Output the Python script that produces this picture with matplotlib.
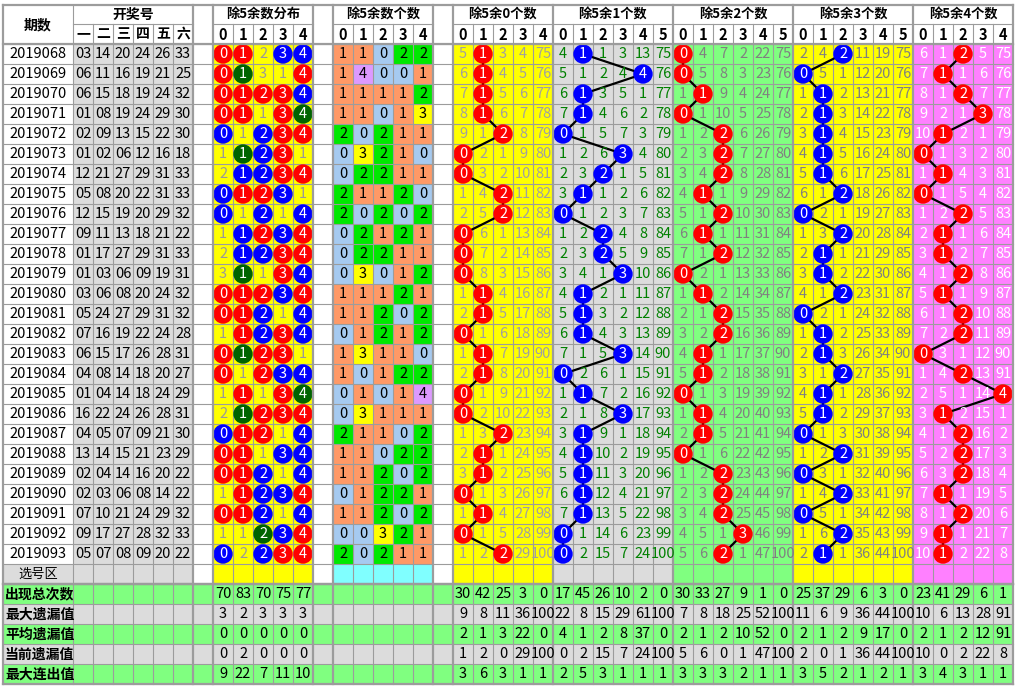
import matplotlib
matplotlib.use('Agg')
import matplotlib.pyplot as plt
from matplotlib.patches import Rectangle, Circle

plt.rcParams['font.family'] = ['Liberation Sans Narrow', 'Noto Sans CJK SC', 'DejaVu Sans']

# ---- data ----
periods = ['2019068', '2019069', '2019070', '2019071', '2019072', '2019073', '2019074',
           '2019075', '2019076', '2019077', '2019078', '2019079', '2019080', '2019081',
           '2019082', '2019083', '2019084', '2019085', '2019086', '2019087', '2019088',
           '2019089', '2019090', '2019091', '2019092', '2019093']

draws = [
    [3, 14, 20, 24, 26, 33], [6, 11, 16, 19, 21, 25], [6, 15, 18, 19, 24, 32],
    [1, 8, 19, 24, 29, 30], [2, 9, 13, 15, 22, 30], [1, 2, 6, 12, 16, 18],
    [12, 21, 27, 29, 31, 33], [5, 8, 20, 22, 31, 33], [12, 15, 19, 20, 29, 32],
    [9, 11, 13, 18, 21, 22], [1, 17, 27, 29, 31, 33], [1, 3, 6, 9, 19, 31],
    [3, 6, 8, 20, 24, 32], [5, 24, 27, 29, 31, 32], [7, 16, 19, 22, 24, 28],
    [6, 15, 17, 26, 28, 31], [4, 8, 14, 18, 20, 27], [1, 4, 14, 18, 24, 29],
    [16, 22, 24, 26, 28, 31], [4, 5, 7, 9, 21, 30], [13, 14, 15, 21, 23, 29],
    [2, 4, 14, 16, 20, 22], [2, 3, 6, 8, 14, 22], [7, 10, 21, 24, 29, 32],
    [9, 17, 27, 28, 32, 33], [5, 7, 8, 9, 20, 22],
]

# how many numbers of each remainder (0..4) per draw
counts = [
    [1, 1, 0, 2, 2], [1, 4, 0, 0, 1], [1, 1, 1, 1, 2], [1, 1, 0, 1, 3], [2, 0, 2, 1, 1],
    [0, 3, 2, 1, 0], [0, 2, 2, 1, 1], [2, 1, 1, 2, 0], [2, 0, 2, 0, 2], [0, 2, 1, 2, 1],
    [0, 2, 2, 1, 1], [0, 3, 0, 1, 2], [1, 1, 1, 2, 1], [1, 1, 2, 0, 2], [0, 1, 2, 1, 2],
    [1, 3, 1, 1, 0], [1, 0, 1, 2, 2], [0, 1, 0, 1, 4], [0, 3, 1, 1, 1], [2, 1, 1, 0, 2],
    [1, 1, 0, 2, 2], [1, 1, 2, 0, 2], [0, 1, 2, 2, 1], [1, 1, 2, 0, 2], [0, 0, 3, 2, 1],
    [2, 0, 2, 1, 1],
]

# omission values shown in the first row (hit cell = 0)
dist_first = [0, 0, 2, 0, 0]
rem_first = [
    [5, 0, 3, 4, 75],
    [4, 0, 1, 3, 13, 75],
    [0, 4, 7, 2, 22, 75],
    [2, 4, 0, 11, 19, 75],
    [6, 1, 0, 5, 75],
]

stat_labels = ['出现总次数', '最大遗漏值', '平均遗漏值', '当前遗漏值', '最大连出值']
dist_stats = [[70, 83, 70, 75, 77], [3, 2, 3, 3, 3], [0, 0, 0, 0, 0],
              [0, 2, 0, 0, 0], [9, 22, 7, 11, 10]]
rem_stats = [
    [[30, 42, 25, 3, 0], [9, 8, 11, 36, 100], [2, 1, 3, 22, 0],
     [1, 2, 0, 29, 100], [3, 6, 3, 1, 1]],
    [[17, 45, 26, 10, 2, 0], [22, 8, 15, 29, 61, 100], [4, 1, 2, 8, 37, 0],
     [0, 2, 15, 7, 24, 100], [2, 5, 3, 1, 1, 1]],
    [[30, 33, 27, 9, 1, 0], [7, 8, 18, 25, 52, 100], [2, 1, 2, 10, 52, 0],
     [5, 6, 0, 1, 47, 100], [3, 3, 3, 2, 1, 1]],
    [[25, 37, 29, 6, 3, 0], [11, 6, 9, 36, 44, 100], [2, 1, 2, 9, 17, 0],
     [2, 0, 1, 36, 44, 100], [3, 5, 2, 1, 2, 1]],
    [[23, 41, 29, 6, 1], [10, 6, 13, 28, 91], [2, 1, 2, 12, 91],
     [10, 0, 2, 22, 8], [3, 4, 3, 1, 1]],
]

draw_heads = ['一', '二', '三', '四', '五', '六']

# ---- styles ----
GRID = '#9c9c9c'
GREY = '#dcdcdc'
STAT_GREEN = '#80ff80'
cnt_colors = {0: '#a6caf0', 1: '#ff9966', 2: '#00e800', 3: '#ffff00', 4: '#dd99ff'}
dist_ball = {1: '#ff0000', 2: '#0000ff', 3: '#006400', 4: '#006400'}
rem_style = [
    dict(bg='#ffff00', ball='#ff0000', fg='#a0a0a0'),
    dict(bg='#dcdcdc', ball='#0000ff', fg='#008000'),
    dict(bg='#80ff80', ball='#ff0000', fg='#808080'),
    dict(bg='#ffff00', ball='#0000ff', fg='#808080'),
    dict(bg='#ff80ff', ball='#ff0000', fg='#ffffff'),
]

FS = 10.5
FS_CJK = 9.5
CW = 20
RH = 20
Y_TOP, Y_H2, Y_DATA = 5, 24, 44
n = len(periods)
Y_PICK = Y_DATA + n * RH
Y_STAT = Y_PICK + RH
Y_END = Y_STAT + 5 * RH

# x layout
X_PER = 3
X_DRAW = X_PER + 70
X_GAP1 = X_DRAW + 6 * CW
X_DIST = X_GAP1 + CW
X_GAP2 = X_DIST + 5 * CW
X_CNT = X_GAP2 + CW
X_GAP3 = X_CNT + 5 * CW
x_rem = []
x = X_GAP3 + CW
for f in rem_first:
    x_rem.append(x)
    x += len(f) * CW
X_END = x

fig = plt.figure(figsize=(10.21, 6.87), dpi=100)
ax = fig.add_axes([0, 0, 1, 1])
ax.set_xlim(0, 1021)
ax.set_ylim(687, 0)
ax.axis('off')


def cell(x, y, w, h, fc):
    ax.add_patch(Rectangle((x, y), w, h, facecolor=fc, edgecolor='none', zorder=1))


def txt(x, y, s, color='black', size=FS, weight='normal', ha='center', z=6):
    ax.text(x, y + 0.5, s, ha=ha, va='center', color=color, fontsize=size,
            fontweight=weight, zorder=z)


def ball(cx, cy, color, label):
    ax.add_patch(Circle((cx, cy), 9.7, facecolor=color, edgecolor='none', zorder=4))
    txt(cx, cy, label, color='white')


def row_y(i):
    return Y_DATA + i * RH


# omission tables
dist_om = []
cur = list(dist_first)
for i, c in enumerate(counts):
    if i > 0:
        cur = [0 if c[r] > 0 else cur[r] + 1 for r in range(5)]
    dist_om.append(cur)

rem_om = []
for k, first in enumerate(rem_first):
    tab = []
    cur = list(first)
    for i, c in enumerate(counts):
        if i > 0:
            cur = [0 if c[k] == j else cur[j] + 1 for j in range(len(first))]
        tab.append(cur)
    rem_om.append(tab)

# ---- header ----
cell(0, 0, 1021, 687, 'white')
txt(X_PER + 35, (Y_TOP + Y_DATA) / 2, '期数', size=FS_CJK + 0.5, weight='bold')
txt(X_DRAW + 3 * CW, (Y_TOP + Y_H2) / 2, '开奖号', size=FS_CJK + 0.5, weight='bold')
for j, h in enumerate(draw_heads):
    txt(X_DRAW + j * CW + CW / 2, (Y_H2 + Y_DATA) / 2, h, size=FS_CJK + 0.5, weight='bold')

titles = [('除5余数分布', X_DIST, 5), ('除5余数个数', X_CNT, 5)]
for k, f in enumerate(rem_first):
    titles.append(('除5余%d个数' % k, x_rem[k], len(f)))
for t, xs, nc in titles:
    txt(xs + nc * CW / 2, (Y_TOP + Y_H2) / 2, t, size=FS_CJK, weight='bold')
    for j in range(nc):
        txt(xs + j * CW + CW / 2, (Y_H2 + Y_DATA) / 2, str(j), weight='bold')

# ---- data rows ----
for i in range(n):
    y = row_y(i)
    cy = y + RH / 2
    txt(X_PER + 35, cy, periods[i])
    for j, d in enumerate(draws[i]):
        cell(X_DRAW + j * CW, y, CW, RH, GREY)
        txt(X_DRAW + j * CW + CW / 2, cy, '%02d' % d)
    # remainder distribution
    cell(X_DIST, y, 5 * CW, RH, '#ffff00')
    for r in range(5):
        cx = X_DIST + r * CW + CW / 2
        if counts[i][r] > 0:
            ball(cx, cy, dist_ball[counts[i][r]], str(r))
        else:
            txt(cx, cy, str(dist_om[i][r]), color='#999999')
    # remainder counts
    for r in range(5):
        cell(X_CNT + r * CW, y, CW, RH, cnt_colors[counts[i][r]])
        txt(X_CNT + r * CW + CW / 2, cy, str(counts[i][r]))
    # per-remainder omission sections
    for k, st in enumerate(rem_style):
        nc = len(rem_first[k])
        cell(x_rem[k], y, nc * CW, RH, st['bg'])
        for j in range(nc):
            cx = x_rem[k] + j * CW + CW / 2
            if counts[i][k] == j:
                ball(cx, cy, st['ball'], str(j))
            else:
                txt(cx, cy, str(rem_om[k][i][j]), color=st['fg'])

# connecting lines
for k in range(len(rem_style)):
    xs = [x_rem[k] + counts[i][k] * CW + CW / 2 for i in range(n)]
    ys = [row_y(i) + RH / 2 for i in range(n)]
    ax.plot(xs, ys, color='black', lw=1.6, zorder=3, solid_capstyle='round')

# pick row
cell(X_PER, Y_PICK, 70, RH, GREY)
txt(X_PER + 35, Y_PICK + RH / 2, '选号区', size=FS_CJK)
cell(X_DRAW, Y_PICK, 6 * CW, RH, GREY)
cell(X_DIST, Y_PICK, 5 * CW, RH, '#ffff00')
cell(X_CNT, Y_PICK, 5 * CW, RH, '#80ffff')
for k, st in enumerate(rem_style):
    cell(x_rem[k], Y_PICK, len(rem_first[k]) * CW, RH, st['bg'])

# stats rows
for s, lab in enumerate(stat_labels):
    y = Y_STAT + s * RH
    cy = y + RH / 2
    cell(X_PER, y, X_END - X_PER, RH, STAT_GREEN if s % 2 == 0 else GREY)
    txt(X_PER + 2, cy, lab, size=FS_CJK + 0.5, weight='bold', ha='left')
    for r in range(5):
        txt(X_DIST + r * CW + CW / 2, cy, str(dist_stats[s][r]))
    for k in range(len(rem_stats)):
        for j, v in enumerate(rem_stats[k][s]):
            txt(x_rem[k] + j * CW + CW / 2, cy, str(v))

# ---- grid ----
thin = 0.8
thick = 1.6
# horizontal
for i in range(n + 1):
    ax.plot([X_PER, X_END], [row_y(i)] * 2, color=GRID, lw=thin, zorder=2)
for s in range(6):
    ax.plot([X_PER, X_END], [Y_STAT + s * RH] * 2, color=GRID, lw=thin, zorder=2)
for t, xs, nc in [('', X_DRAW, 6)] + titles:
    ax.plot([xs, xs + nc * CW], [Y_H2] * 2, color=GRID, lw=thin, zorder=2)
for yy in [Y_TOP, Y_DATA, Y_STAT, Y_END]:
    ax.plot([X_PER, X_END], [yy] * 2, color=GRID, lw=thick, zorder=5)
ax.plot([X_PER, X_END], [Y_PICK + RH] * 2, color=GRID, lw=thick, zorder=5)

# vertical thin lines inside column groups
groups = [(X_DRAW, 6), (X_DIST, 5), (X_CNT, 5)] + [(x_rem[k], len(f)) for k, f in enumerate(rem_first)]
for xs, nc in groups:
    for j in range(1, nc):
        ax.plot([xs + j * CW] * 2, [Y_H2, Y_END], color=GRID, lw=thin, zorder=2)
ax.plot([X_DRAW] * 2, [Y_TOP, Y_END], color=GRID, lw=thin, zorder=2)
for xx in [X_PER, X_GAP1, X_DIST, X_GAP2, X_CNT, X_GAP3] + x_rem + [X_END]:
    ax.plot([xx] * 2, [Y_TOP, Y_END], color=GRID, lw=thick, zorder=5)

fig.savefig('out.png', dpi=100)
